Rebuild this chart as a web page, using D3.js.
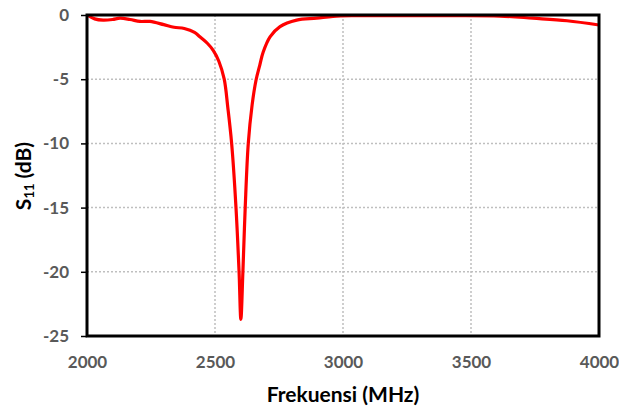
<!DOCTYPE html>
<html>
<head>
<meta charset="utf-8">
<script src="https://cdn.jsdelivr.net/npm/d3@7"></script>
<style>
  body { margin: 0; background: #fff; }
  svg { display: block; }
  .tick text { font-family: Lato, "Open Sans", sans-serif; font-weight: bold; font-size: 17px; fill: #595959; }
  .title { font-family: Lato, "Open Sans", sans-serif; font-weight: bold; font-size: 21px; fill: #000; }
</style>
</head>
<body>
<svg width="619" height="409"></svg>
<script>
// Frequency (MHz) and S11 (dB)
const freq = [2000, 2030, 2063, 2100, 2129, 2168, 2207, 2246, 2300, 2340, 2380, 2420, 2441, 2470, 2493,
  2515, 2536, 2550, 2565, 2582, 2594, 2601, 2609, 2618, 2630, 2645, 2660, 2675, 2688, 2715,
  2754, 2819, 2897, 2961, 3050, 3200, 3400, 3613, 3742, 3875, 4000];
const s11 = [0, -0.3, -0.4, -0.35, -0.25, -0.35, -0.5, -0.5, -0.75, -0.95, -1.05, -1.35, -1.7, -2.2, -2.75,
  -3.6, -5, -7.2, -10, -15, -20, -23.7, -20, -15, -10, -7.0, -5.1, -3.9, -2.9, -1.7,
  -0.9, -0.4, -0.25, -0.1, -0.05, -0.05, -0.05, -0.08, -0.25, -0.45, -0.78];

const xTicks = [2000, 2500, 3000, 3500, 4000];
const yTicks = [0, -5, -10, -15, -20, -25];

let svg = d3.select('svg');

// Plot area edges
let pL = 87, pR = 599, pT = 15, pB = 336;

let x = d3.scaleLinear().domain([2000, 4000]).range([pL, pR]);
let y = d3.scaleLinear().domain([-25, 0]).range([pB, pT]);

// Grid lines (dotted)
let grid = svg.append('g');
grid.selectAll('line.v')
  .data(xTicks.slice(1, -1))
  .enter().append('line')
  .attr('x1', d => x(d)).attr('x2', d => x(d))
  .attr('y1', pT).attr('y2', pB)
  .attr('stroke', '#bfbfbf').attr('stroke-width', 1.5).attr('stroke-dasharray', '2,2');
grid.selectAll('line.h')
  .data(yTicks.slice(1, -1))
  .enter().append('line')
  .attr('x1', pL).attr('x2', pR)
  .attr('y1', d => y(d)).attr('y2', d => y(d))
  .attr('stroke', '#bfbfbf').attr('stroke-width', 1.5).attr('stroke-dasharray', '2,2');

// Axes (plain hyphen minus, no thousands separator)
let xAxis = svg.append('g')
  .attr('transform', 'translate(0,' + pB + ')')
  .call(d3.axisBottom(x).tickValues(xTicks).tickSize(0).tickPadding(20).tickFormat(d => String(d)));
xAxis.select('.domain').remove();

let yAxis = svg.append('g')
  .attr('transform', 'translate(' + pL + ',0)')
  .call(d3.axisLeft(y).tickValues(yTicks).tickSize(6).tickPadding(12).tickFormat(d => String(d)));
yAxis.select('.domain').remove();
yAxis.selectAll('.tick line').attr('stroke', '#000').attr('stroke-width', 1.5);

// Curve
let line = d3.line()
  .x((d, i) => x(freq[i]))
  .y(d => y(d))
  .curve(d3.curveCatmullRom.alpha(0.5));

svg.append('path')
  .datum(s11)
  .attr('d', line)
  .attr('fill', 'none')
  .attr('stroke', '#ff0000')
  .attr('stroke-width', 3.2)
  .attr('stroke-linejoin', 'round');

// Plot frame
svg.append('rect')
  .attr('x', pL).attr('y', pT)
  .attr('width', pR - pL).attr('height', pB - pT)
  .attr('fill', 'none').attr('stroke', '#000').attr('stroke-width', 3);

// Titles
svg.append('text')
  .attr('class', 'title')
  .attr('x', (pL + pR) / 2).attr('y', 402)
  .attr('text-anchor', 'middle')
  .text('Frekuensi (MHz)');

let yt = svg.append('text')
  .attr('class', 'title')
  .attr('transform', 'translate(31,176) rotate(-90)')
  .attr('text-anchor', 'middle');
yt.append('tspan').text('S');
yt.append('tspan').attr('font-size', '13px').attr('dy', 3).text('11');
yt.append('tspan').attr('dy', -3).text(' (dB)');
</script>
</body>
</html>
